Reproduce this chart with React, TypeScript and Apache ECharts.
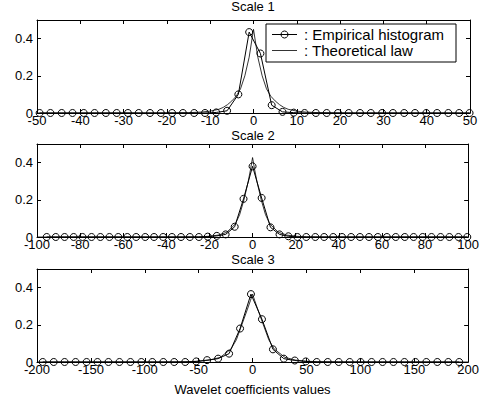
import React, { useEffect, useRef } from "react";
import * as echarts from "echarts";

const FONT = "'Liberation Sans', Arial, Helvetica, sans-serif";

// Scale 1 histogram (bin centers and empirical frequencies)
const bins1 = [-49.4,-46.9,-44.3,-41.8,-39.2,-36.7,-34.1,-31.6,-29.0,-26.5,-23.9,-21.4,-18.8,-16.3,-13.7,-11.2,-8.6,-6.1,-3.5,-1.0,1.6,4.2,6.7,9.3,11.8,14.4,16.9,19.5,22.0,24.6,27.1,29.7,32.2,34.8,37.3,39.9,42.4,45.0,47.5,49.9];
const emp1 = [0,0,0,0,0,0,0,0,0,0,0,0,0,0,0,0,0.003,0.012,0.1,0.435,0.32,0.042,0.006,0.002,0,0,0,0,0,0,0,0,0,0,0,0,0,0,0,0];
const thX1 = [-50,-20,-15,-12,-10,-8,-7,-6,-5,-4,-3,-2,-1,0,1,2,3,4,5,6,7,8,10,12,15,20,50];
const thY1 = [0,0.0005,0.002,0.005,0.01,0.02,0.03,0.045,0.065,0.09,0.13,0.2,0.3,0.45,0.3,0.2,0.13,0.09,0.065,0.045,0.03,0.02,0.01,0.005,0.002,0.0005,0];

// Scale 2
const bins2 = [-95.5,-91.3,-87.2,-83.0,-78.9,-74.7,-70.6,-66.4,-62.3,-58.1,-54.0,-49.8,-45.7,-41.5,-37.4,-33.2,-29.1,-24.9,-20.8,-16.6,-12.5,-8.3,-4.2,0,4.2,8.3,12.5,16.6,20.8,24.9,29.1,33.2,37.4,41.5,45.7,49.8,54.0,58.1,62.3,66.4,70.6,74.7,78.9,83.0,87.2,91.3,95.5,99.6];
const emp2 = [0,0,0,0,0,0,0,0,0,0,0,0,0,0,0,0,0,0,0.002,0.006,0.014,0.055,0.205,0.38,0.21,0.052,0.014,0.004,0,0,0,0,0,0,0,0,0,0,0,0,0,0,0,0,0,0,0,0];
const thX2 = [-100,-30,-25,-20,-16,-12,-8,-6,-4,-2,-1,0,1,2,4,6,8,12,16,20,25,30,100];
const thY2 = [0,0.0005,0.001,0.004,0.01,0.025,0.07,0.12,0.2,0.3,0.36,0.427,0.36,0.3,0.2,0.12,0.07,0.025,0.01,0.004,0.001,0.0005,0];

// Scale 3
const bins3 = [-194.7,-184.5,-174.4,-164.2,-154.0,-143.9,-133.7,-123.5,-113.3,-103.2,-93.0,-82.8,-72.7,-62.5,-52.3,-42.2,-32.0,-21.8,-11.6,-1.5,8.7,18.9,29.0,39.2,49.4,59.5,69.7,79.9,90.1,100.2,110.4,120.6,130.7,140.9,151.1,161.2,171.4,181.6,191.7];
const emp3 = [0,0,0,0,0,0,0,0,0,0,0,0,0,0,0.003,0.01,0.018,0.045,0.18,0.365,0.23,0.068,0.018,0.008,0.003,0,0,0,0,0,0,0,0,0,0,0,0,0,0];
const thX3 = [-200,-80,-60,-50,-40,-30,-20,-15,-10,-5,-2,0,2,5,10,15,20,30,40,50,60,80,200];
const thY3 = [0,0.0005,0.002,0.004,0.01,0.025,0.07,0.12,0.2,0.28,0.33,0.365,0.33,0.28,0.2,0.12,0.07,0.025,0.01,0.004,0.002,0.0005,0];

const titles = ["Scale 1", "Scale 2", "Scale 3"];
const xMax = [50, 100, 200];
const xStep = [10, 20, 50];
const yTicks = [0, 0.2, 0.4];
const EMP = ": Empirical histogram";
const THEO = ": Theoretical law";

const zip = (a: number[], b: number[]) => a.map((v, i) => [v, b[i]]);

export default function App() {
  const ref = useRef<HTMLDivElement>(null);
  useEffect(() => {
    document.body.style.margin = "0";
    const chart = echarts.init(ref.current!, undefined, { renderer: "svg" });
    const gridTops = [20, 144, 269];
    const titleTops = [0, 129, 253];
    const bins = [bins1, bins2, bins3];
    const emps = [emp1, emp2, emp3];
    const thX = [thX1, thX2, thX3];
    const thY = [thY1, thY2, thY3];

    const grid = gridTops.map((t) => ({ left: 37, right: 12, top: t, height: 93 }));
    const xAxis: any[] = [];
    const yAxis: any[] = [];
    const series: any[] = [];
    for (let i = 0; i < 3; i++) {
      for (const pos of ["bottom", "top"]) {
        xAxis.push({
          gridIndex: i,
          type: "value",
          position: pos,
          min: -xMax[i],
          max: xMax[i],
          interval: xStep[i],
          axisLine: { onZero: false, lineStyle: { color: "#000", width: 1 } },
          axisTick: { inside: true, length: 4, lineStyle: { color: "#000" } },
          axisLabel: { show: pos === "bottom", color: "#000", fontSize: 13, margin: 1, fontFamily: FONT },
          splitLine: { show: false },
          name: i === 2 && pos === "bottom" ? "Wavelet coefficients values" : "",
          nameLocation: "middle",
          nameGap: 21,
          nameTextStyle: { color: "#000", fontSize: 13, fontFamily: FONT },
        });
      }
      for (const pos of ["left", "right"]) {
        yAxis.push({
          gridIndex: i,
          type: "value",
          position: pos,
          min: 0,
          max: 0.5,
          interval: 0.2,
          axisLine: { show: true, onZero: false, lineStyle: { color: "#000", width: 1 } },
          axisTick: { show: true, inside: true, length: 4, lineStyle: { color: "#000" } },
          axisLabel: {
            show: pos === "left",
            color: "#000",
            fontSize: 13,
            margin: 4,
            fontFamily: FONT,
            showMaxLabel: false,
            formatter: (v: number) => (yTicks.some((t) => Math.abs(t - v) < 1e-9) ? String(v) : ""),
          },
          splitLine: { show: false },
        });
      }
      series.push({
        name: THEO,
        type: "line",
        xAxisIndex: 2 * i,
        yAxisIndex: 2 * i,
        data: zip(thX[i], thY[i]),
        symbol: "none",
        lineStyle: { color: "#000", width: 0.8 },
        itemStyle: { color: "#000" },
      });
      series.push({
        name: EMP,
        type: "line",
        xAxisIndex: 2 * i,
        yAxisIndex: 2 * i,
        data: zip(bins[i], emps[i]),
        symbol: "circle",
        symbolSize: 7,
        lineStyle: { color: "#000", width: 1 },
        itemStyle: { color: "rgba(0,0,0,0)", borderColor: "#000", borderWidth: 1 },
        clip: false,
      });
    }

    const legendText = { fill: "#000", fontSize: 15, fontFamily: FONT, verticalAlign: "middle", align: "left" };
    const graphic = [
      { type: "rect", z: 100, shape: { x: 266, y: 24, width: 190, height: 38 }, style: { fill: "#fff", stroke: "#000", lineWidth: 1 } },
      { type: "line", z: 101, shape: { x1: 272, y1: 34.5, x2: 297, y2: 34.5 }, style: { stroke: "#000", lineWidth: 1 } },
      { type: "circle", z: 102, shape: { cx: 284.5, cy: 34.5, r: 3.5 }, style: { fill: "none", stroke: "#000", lineWidth: 1 } },
      { type: "text", z: 101, style: { ...legendText, text: EMP, x: 304, y: 34.5 } },
      { type: "line", z: 101, shape: { x1: 272, y1: 50.5, x2: 297, y2: 50.5 }, style: { stroke: "#000", lineWidth: 0.8 } },
      { type: "text", z: 101, style: { ...legendText, text: THEO, x: 304, y: 50.5 } },
    ];

    chart.setOption({
      animation: false,
      backgroundColor: "#fff",
      textStyle: { fontFamily: FONT },
      title: titles.map((t, i) => ({
        text: t,
        left: 253,
        top: titleTops[i],
        textAlign: "center",
        padding: 0,
        textStyle: { color: "#000", fontSize: 13, fontWeight: "normal", fontFamily: FONT },
      })),
      grid,
      xAxis,
      yAxis,
      series,
      graphic,
    });
    return () => chart.dispose();
  }, []);
  return <div ref={ref} style={{ width: 482, height: 404 }} />;
}
